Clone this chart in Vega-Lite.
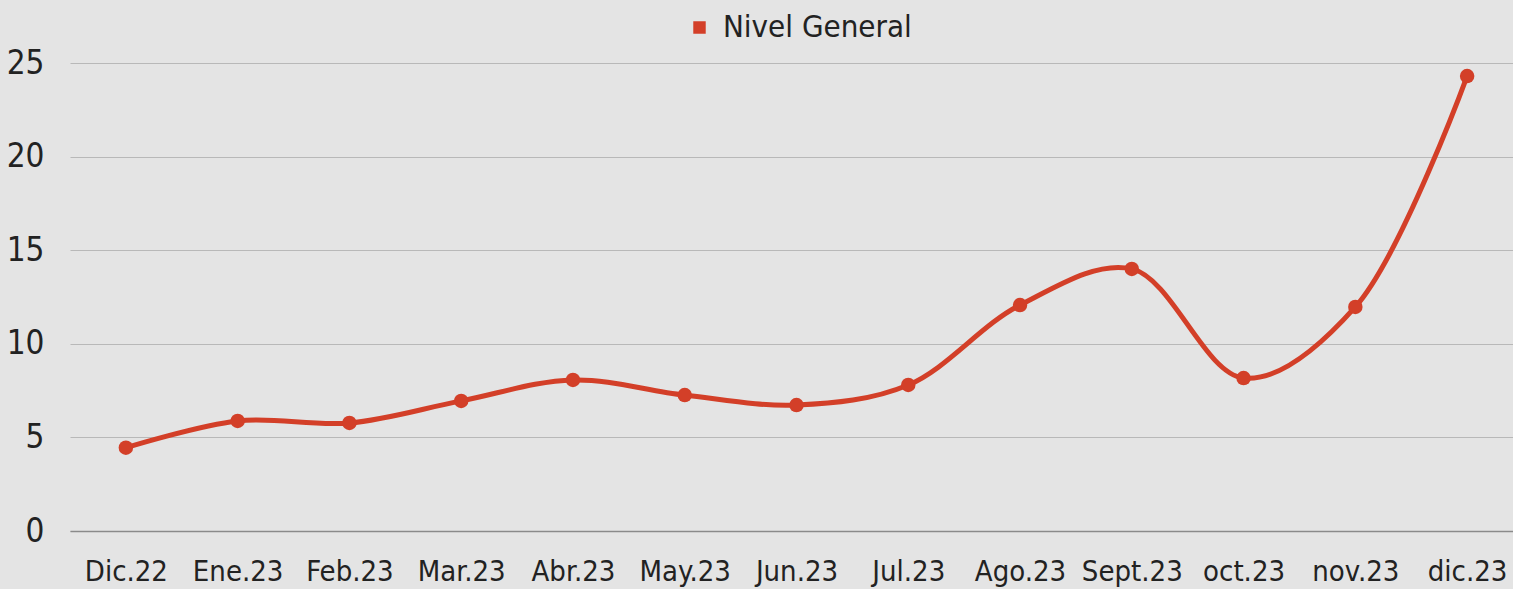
{
  "$schema": "https://vega.github.io/schema/vega-lite/v6.json",
  "width": 1453,
  "height": 468,
  "autosize": {"type": "none"},
  "padding": {"left": 70, "top": 63, "right": 0, "bottom": 58},
  "background": "#e4e4e4",
  "config": {
    "view": {"stroke": null},
    "font": "DejaVu Sans Condensed",
    "axis": {"labelFont": "DejaVu Sans Condensed", "labelColor": "#222222"},
    "legend": {"labelFont": "DejaVu Sans Condensed", "labelColor": "#222222"}
  },
  "data": {
    "values": [
      {"mes": "Dic.22", "valor": 4.45, "serie": "Nivel General"},
      {"mes": "Ene.23", "valor": 5.88, "serie": "Nivel General"},
      {"mes": "Feb.23", "valor": 5.77, "serie": "Nivel General"},
      {"mes": "Mar.23", "valor": 6.95, "serie": "Nivel General"},
      {"mes": "Abr.23", "valor": 8.07, "serie": "Nivel General"},
      {"mes": "May.23", "valor": 7.26, "serie": "Nivel General"},
      {"mes": "Jun.23", "valor": 6.73, "serie": "Nivel General"},
      {"mes": "Jul.23", "valor": 7.8, "serie": "Nivel General"},
      {"mes": "Ago.23", "valor": 12.07, "serie": "Nivel General"},
      {"mes": "Sept.23", "valor": 14.0, "serie": "Nivel General"},
      {"mes": "oct.23", "valor": 8.17, "serie": "Nivel General"},
      {"mes": "nov.23", "valor": 11.97, "serie": "Nivel General"},
      {"mes": "dic.23", "valor": 24.3, "serie": "Nivel General"}
    ]
  },
  "encoding": {
    "x": {
      "field": "mes",
      "type": "ordinal",
      "sort": null,
      "scale": {"type": "point", "padding": 0.5},
      "axis": {
        "title": null,
        "labelAngle": 0,
        "labelFontSize": 29,
        "labelPadding": 26,
        "labelLimit": 0,
        "ticks": false,
        "domainColor": "#8a8a8a",
        "domainWidth": 1.5,
        "grid": false
      }
    },
    "y": {
      "field": "valor",
      "type": "quantitative",
      "scale": {"domain": [0, 25], "nice": false},
      "axis": {
        "title": null,
        "values": [0, 5, 10, 15, 20, 25],
        "labelFontSize": 33,
        "labelPadding": 26,
        "ticks": false,
        "domain": false,
        "gridColor": "#b8b8b8",
        "gridWidth": 1.2
      }
    },
    "color": {
      "field": "serie",
      "type": "nominal",
      "scale": {"range": ["#d33f28"]},
      "legend": {
        "title": null,
        "orient": "none",
        "legendX": 614,
        "legendY": -51,
        "symbolType": "square",
        "symbolSize": 120,
        "labelFontSize": 31,
        "labelLimit": 0,
        "symbolOffset": 0,
        "labelOffset": 8
      }
    }
  },
  "layer": [
    {
      "mark": {"type": "line", "interpolate": "catmull-rom", "strokeWidth": 5}
    },
    {
      "mark": {"type": "point", "filled": true, "size": 210, "opacity": 1}
    }
  ]
}
